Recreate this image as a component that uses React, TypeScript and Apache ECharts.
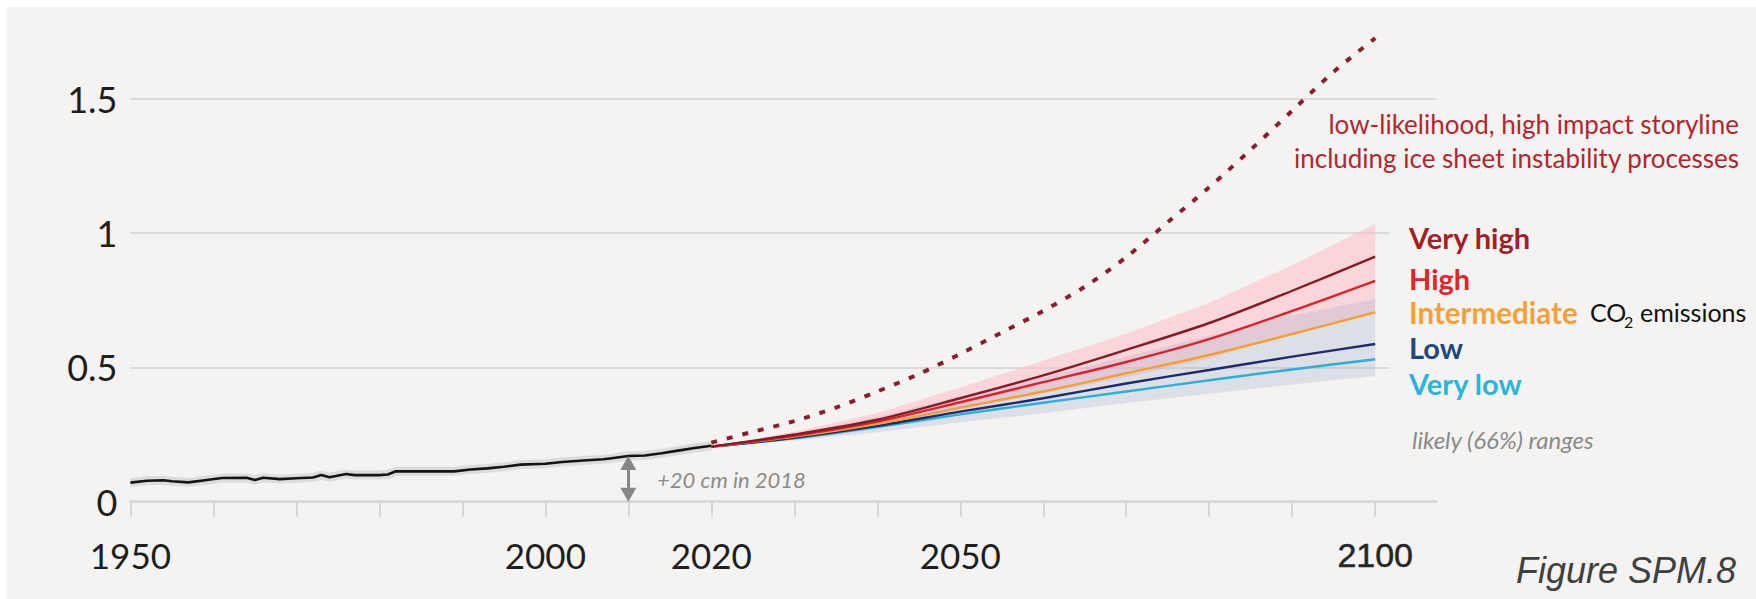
import { useEffect, useRef } from "react";
import * as echarts from "echarts";

// Observed global mean sea level (m, relative to 1900)
const histYears = [
  1950, 1952, 1954, 1955, 1957, 1959, 1961, 1964, 1965, 1966, 1968, 1970, 1972,
  1973, 1974, 1976, 1977, 1980, 1981, 1982, 1985, 1989, 1991, 1993, 1995, 1997,
  2000, 2002, 2005, 2007, 2008, 2010, 2012, 2014, 2016, 2018, 2020,
];
const histLevel = [
  0.071, 0.078, 0.08, 0.076, 0.072, 0.08, 0.088, 0.089, 0.081, 0.089, 0.084, 0.087, 0.09,
  0.099, 0.091, 0.103, 0.099, 0.099, 0.101, 0.113, 0.113, 0.113, 0.12, 0.124, 0.13, 0.138,
  0.141, 0.148, 0.154, 0.158, 0.162, 0.17, 0.172, 0.18, 0.19, 0.2, 0.208,
];

// Projected sea level rise by emissions scenario (m)
const projYears = [2020, 2030, 2040, 2050, 2060, 2070, 2080, 2090, 2100];
const veryHigh = [0.205, 0.25, 0.305, 0.385, 0.47, 0.565, 0.665, 0.785, 0.912];
const high = [0.205, 0.245, 0.298, 0.37, 0.445, 0.52, 0.605, 0.71, 0.822];
const intermediate = [0.205, 0.242, 0.29, 0.35, 0.41, 0.478, 0.546, 0.624, 0.705];
const low = [0.205, 0.238, 0.282, 0.335, 0.385, 0.44, 0.49, 0.54, 0.587];
const veryLow = [0.205, 0.236, 0.278, 0.325, 0.368, 0.41, 0.452, 0.492, 0.53];

// Likely (66%) ranges
const highRangeLow = [0.205, 0.238, 0.281, 0.341, 0.403, 0.463, 0.533, 0.624, 0.711];
const highRangeHigh = [0.205, 0.26, 0.33, 0.425, 0.525, 0.625, 0.74, 0.88, 1.033];
const lowRangeLow = [0.205, 0.228, 0.258, 0.296, 0.329, 0.367, 0.402, 0.436, 0.468];
const lowRangeHigh = [0.205, 0.253, 0.315, 0.393, 0.462, 0.54, 0.618, 0.693, 0.753];

// Low-likelihood, high impact storyline
const storyYears = [2020, 2025, 2030, 2035, 2040, 2045, 2050, 2055, 2060, 2065, 2070, 2075, 2080, 2085, 2090, 2095, 2100];
const storyLevel = [0.22, 0.26, 0.3, 0.35, 0.41, 0.475, 0.55, 0.63, 0.71, 0.8, 0.91, 1.04, 1.17, 1.31, 1.455, 1.6, 1.725];

// Axes
const tickYears = [1950, 1960, 1970, 1980, 1990, 2000, 2010, 2020, 2030, 2040, 2050, 2060, 2070, 2080, 2090, 2100];
const labelYears = [1950, 2000, 2020, 2050, 2100];
const levelTicks = [0, 0.5, 1, 1.5];
const gridRows = [0.5, 1, 1.5];
const gridRowEnds = [2101.7, 2101.7, 2107.35];

const X_MIN = 1950;
const X_MAX = 2107.35;
const Y_MAX = 1.8;
const ARROW_YEAR = 2010;
const ARROW_INSET = 0.026;

const OX = 7;
const OY = 7;

const pts = (xs: number[], ys: number[]) => xs.map((x, i) => [x, ys[i]]);

type TextOpts = {
  color: string;
  size: number;
  family?: string;
  weight?: string;
  style?: string;
  align?: string;
};

function text(t: string, x: number, y: number, o: TextOpts) {
  return {
    type: "text",
    x: x - OX,
    y: y - OY,
    silent: true,
    z: 100,
    style: {
      text: t,
      align: o.align ?? "left",
      verticalAlign: "middle",
      fill: o.color,
      fontSize: o.size,
      fontFamily: o.family ?? "Lato",
      fontWeight: o.weight ?? "normal",
      fontStyle: o.style ?? "normal",
    },
  };
}

function projLine(name: string, ys: number[], color: string, z: number) {
  return {
    name,
    type: "line",
    data: pts(projYears, ys),
    smooth: 0.3,
    symbol: "none",
    silent: true,
    z,
    emphasis: { disabled: true },
    lineStyle: { color, width: 2.4 },
  };
}

// Shaded range drawn as one polygon: upper edge forward, lower edge back
function band(name: string, lo: number[], hi: number[], fill: string, z: number) {
  return {
    name,
    type: "custom",
    silent: true,
    z,
    data: projYears.map((y, i) => [y, lo[i], hi[i]]),
    encode: { x: 0, y: [1, 2] },
    renderItem: (params: any, api: any) => {
      if (params.dataIndex !== 0) return null;
      const upper = projYears.map((y, i) => api.coord([y, hi[i]]));
      const lower = projYears.map((y, i) => api.coord([y, lo[i]])).reverse();
      return {
        type: "polygon",
        shape: { points: upper.concat(lower) },
        style: { fill },
      };
    },
  };
}

export default function App() {
  const ref = useRef<HTMLDivElement>(null);

  useEffect(() => {
    if (!ref.current) return;
    const chart = echarts.init(ref.current, undefined, { renderer: "svg" });
    const arrowTop = histLevel[histYears.indexOf(ARROW_YEAR)];

    chart.setOption({
      animation: false,
      backgroundColor: "#f4f3f1",
      grid: { left: 123.4, right: 319.8, top: 11, bottom: 97.3 },
      xAxis: {
        type: "value",
        min: X_MIN,
        max: X_MAX,
        interval: 10,
        axisLine: { lineStyle: { color: "#d6d6d6", width: 2.5 } },
        axisTick: {
          customValues: tickYears,
          length: 15,
          lineStyle: { color: "#d6d6d6", width: 2 },
        },
        splitLine: { show: false },
        axisLabel: {
          customValues: labelYears,
          margin: 36,
          fontFamily: "Lato",
          fontSize: 35,
          color: "#1e1e1e",
          formatter: (v: number) => (v === 2100 ? "{b|2100}" : String(v)),
          rich: {
            b: {
              fontFamily: "Liberation Sans",
              fontSize: 34,
              color: "#262626",
              textBorderColor: "#262626",
              textBorderWidth: 0.5,
            },
          },
        },
      },
      yAxis: {
        type: "value",
        min: 0,
        max: Y_MAX,
        interval: 0.5,
        axisLine: { show: false },
        axisTick: { show: false },
        splitLine: { show: false },
        axisLabel: {
          customValues: levelTicks,
          margin: 13,
          fontFamily: "Lato",
          fontSize: 36,
          color: "#1e1e1e",
          formatter: (v: number) => String(v),
        },
      },
      series: [
        {
          name: "observed-halo",
          type: "line",
          data: pts(histYears, histLevel),
          symbol: "none",
          silent: true,
          z: 1,
          emphasis: { disabled: true },
          lineStyle: { color: "rgba(70,70,70,0.13)", width: 9 },
          markLine: {
            silent: true,
            symbol: ["none", "none"],
            label: { show: false },
            emphasis: { disabled: true },
            lineStyle: { color: "#dadada", width: 2, type: "solid" },
            z: 0,
            data: gridRows.map((v, i) => [
              { coord: [X_MIN, v] },
              { coord: [gridRowEnds[i], v] },
            ]),
          },
        },
        band("high-range", highRangeLow, highRangeHigh, "rgba(255,185,196,0.5)", 2),
        band("low-range", lowRangeLow, lowRangeHigh, "rgba(160,170,200,0.27)", 2),
        {
          name: "observed",
          type: "line",
          data: pts(histYears, histLevel),
          symbol: "none",
          silent: true,
          z: 4,
          emphasis: { disabled: true },
          lineStyle: { color: "#141414", width: 2.6 },
          markLine: {
            silent: true,
            symbol: ["triangle", "triangle"],
            symbolSize: [16, 14],
            label: { show: false },
            emphasis: { disabled: true },
            lineStyle: { color: "#868686", width: 3, type: "solid" },
            itemStyle: { color: "#868686" },
            data: [
              [
                { coord: [ARROW_YEAR, ARROW_INSET] },
                { coord: [ARROW_YEAR, arrowTop - ARROW_INSET] },
              ],
            ],
          },
        },
        {
          name: "storyline",
          type: "line",
          data: pts(storyYears, storyLevel),
          smooth: 0.3,
          symbol: "none",
          silent: true,
          z: 5,
          emphasis: { disabled: true },
          lineStyle: { color: "#8a1c30", width: 4, type: [6, 10], cap: "butt" },
        },
        projLine("Very low", veryLow, "#2bb0d9", 5),
        projLine("Low", low, "#1c2b6e", 5),
        projLine("Intermediate", intermediate, "#f2a031", 5),
        projLine("High", high, "#e0202d", 5),
        projLine("Very high", veryHigh, "#861a26", 5),
      ],
      graphic: [
        text("low-likelihood, high impact storyline", 1739, 124, {
          color: "#b0282e",
          size: 26,
          align: "right",
        }),
        text("including ice sheet instability processes", 1739, 158, {
          color: "#b0282e",
          size: 26,
          align: "right",
        }),
        text("Very high", 1409, 237, { color: "#a21f28", size: 29, weight: "bold" }),
        text("High", 1409, 278, { color: "#e2232b", size: 29, weight: "bold" }),
        text("Intermediate", 1409, 312, { color: "#f5a03a", size: 29.5, weight: "bold" }),
        text("CO", 1590, 312, { color: "#111111", size: 25 }),
        text("2", 1624, 321, { color: "#111111", size: 16 }),
        text("emissions", 1640, 312, { color: "#111111", size: 25 }),
        text("Low", 1409, 347, { color: "#1e4a7a", size: 29, weight: "bold" }),
        text("Very low", 1409, 383, { color: "#2cb4dc", size: 29, weight: "bold" }),
        text("likely (66%) ranges", 1412, 439, { color: "#8a8a8a", size: 24, style: "italic" }),
        text("+20 cm in 2018", 657, 479, { color: "#8c8c8c", size: 22, style: "italic" }),
        text("Figure SPM.8", 1736, 570, {
          color: "#404040",
          size: 36,
          family: "Liberation Sans",
          style: "italic",
          align: "right",
        }),
      ],
    });

    return () => chart.dispose();
  }, []);

  return (
    <div
      style={{
        position: "fixed",
        left: 0,
        top: 0,
        width: 1756,
        height: 599,
        background: "#ffffff",
      }}
    >
      <div
        ref={ref}
        style={{ position: "absolute", left: OX, top: OY, width: 1749, height: 592 }}
      />
    </div>
  );
}
